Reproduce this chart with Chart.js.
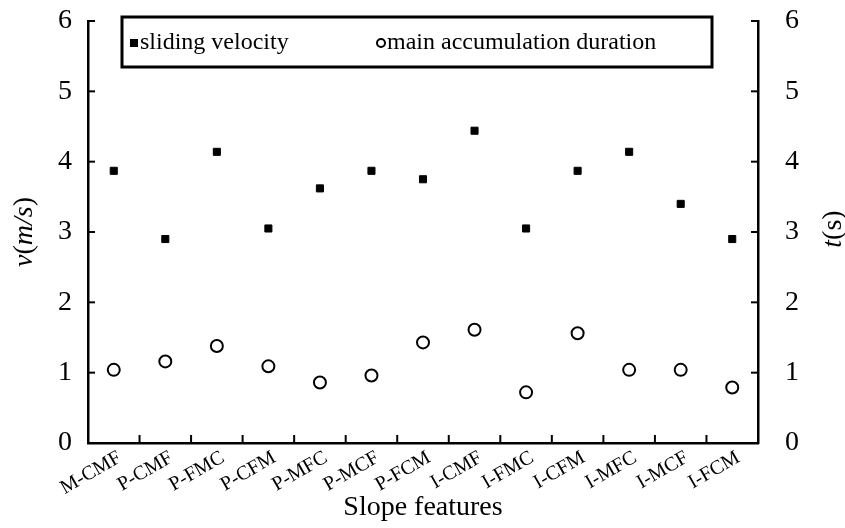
<!DOCTYPE html>
<html>
<head>
<meta charset="utf-8">
<script src="https://cdn.jsdelivr.net/npm/chart.js@4.4.0/dist/chart.umd.min.js"></script>
<style>
  html, body { margin: 0; padding: 0; background: #fff; }
</style>
</head>
<body>
<canvas id="chart" width="845" height="528"></canvas>
<script>
const categories = ['M-CMF', 'P-CMF', 'P-FMC', 'P-CFM', 'P-MFC', 'P-MCF', 'P-FCM',
                    'I-CMF', 'I-FMC', 'I-CFM', 'I-MFC', 'I-MCF', 'I-FCM'];
const slidingVelocity = [3.87, 2.90, 4.14, 3.05, 3.62, 3.87, 3.75, 4.44, 3.05, 3.87, 4.14, 3.40, 2.90];
const accumulationDuration = [1.04, 1.16, 1.38, 1.09, 0.86, 0.96, 1.43, 1.61, 0.72, 1.56, 1.04, 1.04, 0.79];
const yTicks = [0, 1, 2, 3, 4, 5, 6];

const FONT = "'Liberation Serif', 'Times New Roman', serif";

function line(ctx, x1, y1, x2, y2) {
  ctx.beginPath();
  ctx.moveTo(x1, y1);
  ctx.lineTo(x2, y2);
  ctx.stroke();
}

// text made of upright and italic pieces, centred on 0,0
function mixedText(ctx, parts, size) {
  let w = 0;
  parts.forEach(p => {
    ctx.font = (p[1] ? 'italic ' : '') + size + 'px ' + FONT;
    w += ctx.measureText(p[0]).width;
  });
  let x = -w / 2;
  ctx.textAlign = 'left';
  ctx.textBaseline = 'middle';
  parts.forEach(p => {
    ctx.font = (p[1] ? 'italic ' : '') + size + 'px ' + FONT;
    ctx.fillText(p[0], x, 0);
    x += ctx.measureText(p[0]).width;
  });
}

const decor = {
  id: 'decor',
  afterDraw(chart) {
    const ctx = chart.ctx;
    const { left, right, top, bottom } = chart.chartArea;
    const xs = chart.scales.x, ys = chart.scales.y, ys1 = chart.scales.y1;
    ctx.save();
    ctx.strokeStyle = '#000';
    ctx.fillStyle = '#000';
    ctx.lineWidth = 2;

    // inward ticks
    yTicks.forEach(v => {
      line(ctx, left, ys.getPixelForValue(v), left + 7, ys.getPixelForValue(v));
      line(ctx, right - 7, ys1.getPixelForValue(v), right, ys1.getPixelForValue(v));
    });
    for (let i = 1; i < categories.length; i++) {
      const px = (xs.getPixelForValue(i - 1) + xs.getPixelForValue(i)) / 2;
      line(ctx, px, bottom, px, bottom - 8);
    }

    // axis titles
    const midY = (top + bottom) / 2;
    ctx.save();
    ctx.translate(25, midY);
    ctx.rotate(-Math.PI / 2);
    mixedText(ctx, [['v', true], ['(', false], ['m/s', true], [')', false]], 28);
    ctx.restore();
    ctx.save();
    ctx.translate(834, midY - 3);
    ctx.rotate(-Math.PI / 2);
    mixedText(ctx, [['t', true], ['(s)', false]], 28);
    ctx.restore();

    // legend box
    const bx = left + 34, by = top - 4, bw = 590, bh = 50;
    ctx.lineWidth = 3;
    ctx.strokeRect(bx, by, bw, bh);
    const ds = chart.data.datasets;
    const ly = by + 26;
    ctx.fillRect(bx + 8, ly - 4, 8, 8);
    ctx.lineWidth = 2;
    ctx.beginPath();
    ctx.arc(bx + 259, ly, 4, 0, Math.PI * 2);
    ctx.stroke();
    ctx.font = '24px ' + FONT;
    ctx.textAlign = 'left';
    ctx.textBaseline = 'middle';
    ctx.fillText(ds[0].label, bx + 18, ly);
    ctx.fillText(ds[1].label, bx + 265, ly);
    ctx.restore();
  }
};

const tickFont = { family: FONT, size: 28 };
const noPad = s => { s.paddingTop = 0; s.paddingBottom = 0; };

new Chart(document.getElementById('chart'), {
  type: 'line',
  data: {
    labels: categories,
    datasets: [
      {
        label: 'sliding velocity',
        data: slidingVelocity,
        yAxisID: 'y',
        showLine: false,
        pointStyle: 'rect',
        pointRadius: 5,
        backgroundColor: '#000',
        borderColor: '#000',
        borderWidth: 1
      },
      {
        label: 'main accumulation duration',
        data: accumulationDuration,
        yAxisID: 'y1',
        showLine: false,
        pointStyle: 'circle',
        pointRadius: 6,
        backgroundColor: '#fff',
        borderColor: '#000',
        borderWidth: 2
      }
    ]
  },
  options: {
    responsive: false,
    animation: false,
    layout: { padding: { top: 21, left: 0, right: 0, bottom: 0 } },
    plugins: { legend: { display: false }, tooltip: { enabled: false } },
    scales: {
      x: {
        type: 'category',
        offset: true,
        grid: { display: false, offset: true, drawTicks: false },
        border: { display: true, color: '#000', width: 2.5 },
        ticks: { color: '#000', font: { family: FONT, size: 20 }, maxRotation: 30, minRotation: 30,
                 autoSkip: false, padding: 3, labelOffset: 6 },
        title: { display: true, text: 'Slope features', color: '#000', font: { family: FONT, size: 28 }, padding: { top: 0, bottom: 4 } },
        afterFit: s => { s.height = 85; s.paddingLeft = 0; s.paddingRight = 0; }
      },
      y: {
        position: 'left',
        min: 0, max: 6,
        grid: { display: false, drawTicks: false },
        border: { display: true, color: '#000', width: 2.5 },
        ticks: { stepSize: 1, color: '#000', font: tickFont, padding: 16 },
        afterFit: s => { s.width = 88; noPad(s); }
      },
      y1: {
        position: 'right',
        min: 0, max: 6,
        grid: { display: false, drawTicks: false },
        border: { display: true, color: '#000', width: 2.5 },
        ticks: { stepSize: 1, color: '#000', font: tickFont, padding: 27 },
        afterFit: s => { s.width = 87; noPad(s); }
      }
    }
  },
  plugins: [decor]
});
</script>
</body>
</html>
